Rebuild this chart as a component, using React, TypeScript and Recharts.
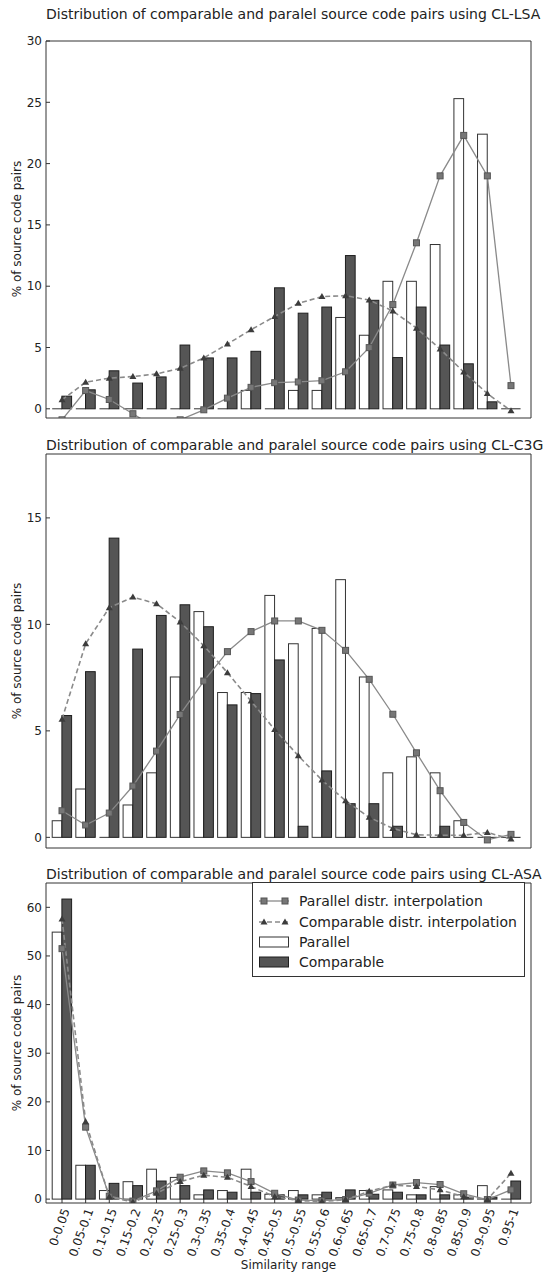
import React from "react";
import { ComposedChart, Bar, Line, XAxis, YAxis } from "recharts";

const categories = [
  "0-0.05", "0.05-0.1", "0.1-0.15", "0.15-0.2", "0.2-0.25", "0.25-0.3", "0.3-0.35",
  "0.35-0.4", "0.4-0.45", "0.45-0.5", "0.5-0.55", "0.55-0.6", "0.6-0.65", "0.65-0.7",
  "0.7-0.75", "0.75-0.8", "0.8-0.85", "0.85-0.9", "0.9-0.95", "0.95-1",
];

// CL-LSA
const lsaParallel = [0, 0, 0, 0, 0, 0, 0, 0, 1.5, 0, 1.5, 1.5, 7.45, 6.0, 10.4, 10.4, 13.4, 25.3, 22.4, 0];
const lsaComparable = [1.03, 1.55, 3.1, 2.1, 2.6, 5.2, 4.15, 4.15, 4.69, 9.87, 7.8, 8.3, 12.5, 8.85, 4.18, 8.3, 5.2, 3.67, 0.57, 0];
const lsaParallelFit = [-0.9, 1.49, 0.76, -0.4, -1.6, -0.9, -0.08, 0.87, 1.75, 2.13, 2.19, 2.29, 3.02, 4.99, 8.5, 13.54, 19.0, 22.3, 19.0, 1.89];
const lsaComparableFit = [0.73, 2.17, 2.5, 2.63, 2.85, 3.3, 4.15, 5.28, 6.45, 7.53, 8.6, 9.15, 9.23, 8.87, 7.98, 6.58, 4.88, 3.0, 1.24, -0.16];

// CL-C3G
const c3gParallel = [0.78, 2.27, 0, 1.52, 3.03, 7.53, 10.6, 6.8, 6.8, 11.36, 9.09, 9.81, 12.1, 7.53, 3.03, 3.78, 3.03, 0.78, 0, 0];
const c3gComparable = [5.72, 7.78, 14.05, 8.84, 10.42, 10.92, 9.89, 6.22, 6.75, 8.33, 0.52, 3.12, 1.58, 1.58, 0.52, 0, 0.52, 0, 0, 0];
const c3gParallelFit = [1.25, 0.58, 1.14, 2.41, 4.05, 5.77, 7.34, 8.72, 9.66, 10.16, 10.16, 9.72, 8.78, 7.42, 5.78, 3.97, 2.19, 0.7, -0.12, 0.14];
const c3gComparableFit = [5.55, 9.09, 10.78, 11.28, 10.97, 10.11, 9.0, 7.73, 6.4, 5.06, 3.83, 2.69, 1.72, 0.94, 0.42, 0.12, 0.1, 0.1, 0.23, -0.08];

// CL-ASA
const asaParallel = [54.9, 6.96, 1.76, 3.58, 6.15, 4.46, 0.88, 1.76, 6.15, 1.0, 1.76, 0.88, 0.3, 1.76, 1.89, 0.88, 2.57, 0.88, 2.77, 0];
const asaComparable = [61.7, 6.96, 3.24, 2.77, 3.72, 2.77, 1.89, 1.42, 1.42, 0.88, 0.88, 1.42, 1.89, 1.0, 1.42, 0.88, 0.88, 0.4, 0.4, 3.72];
const asaParallelFit = [51.5, 14.8, 0.6, -0.4, 1.7, 4.5, 5.8, 5.4, 3.6, 1.2, -0.2, -0.3, -0.1, 1.2, 2.9, 3.4, 3.0, 1.1, -0.1, 1.9];
const asaComparableFit = [57.6, 15.9, 0.5, -0.6, 1.2, 3.6, 4.9, 4.5, 2.6, 0.5, -0.3, -0.5, -0.1, 1.6, 2.9, 2.6, 1.9, 0.5, -0.1, 5.3];

const lsaTicks = [0, 5, 10, 15, 20, 25, 30];
const c3gTicks = [0, 5, 10, 15];
const asaTicks = [0, 10, 20, 30, 40, 50, 60];

const build = (p: number[], c: number[], pf: number[], cf: number[]) =>
  categories.map((range, i) => ({
    range,
    parallel: p[i],
    comparable: c[i],
    parallelFit: pf[i],
    comparableFit: cf[i],
  }));

const AXIS = "#333";
const TEXT = "#222";
const FONT = "'DejaVu Sans', sans-serif";

const whiteBar = (props: any) => {
  const { x, y, width, height } = props;
  if (!height || Math.abs(height) < 0.4)
    return <line x1={x} x2={x + width} y1={y} y2={y} stroke="#333" strokeWidth={1} />;
  return <rect x={x} y={y} width={width} height={height} fill="#fff" stroke="#333" strokeWidth={1} />;
};

const darkBar = (props: any) => {
  const { x, y, width, height } = props;
  if (!height || Math.abs(height) < 0.4)
    return <line x1={x} x2={x + width} y1={y} y2={y} stroke="#222" strokeWidth={1} />;
  return <rect x={x} y={y} width={width} height={height} fill="#555" stroke="#1e1e1e" strokeWidth={1} />;
};

const squareDot = (props: any) => {
  const { cx, cy, index } = props;
  if (cx == null || cy == null) return <g key={`s${index}`} />;
  return <rect key={`s${index}`} x={cx - 3} y={cy - 3} width={6} height={6} fill="#777" stroke="#555" strokeWidth={1} />;
};

const triDot = (props: any) => {
  const { cx, cy, index } = props;
  if (cx == null || cy == null) return <g key={`t${index}`} />;
  return <path key={`t${index}`} d={`M${cx},${cy - 3.5} L${cx + 3.5},${cy + 2.5} L${cx - 3.5},${cy + 2.5} Z`} fill="#3c3c3c" />;
};

const RotTick = (props: any) => {
  const { x, y, payload } = props;
  const ax = x + 4;
  const ay = y + 6;
  return (
    <text x={ax} y={ay} dy="0.35em" transform={`rotate(-70 ${ax} ${ay})`} textAnchor="end" fontSize={12} fill={TEXT} fontFamily={FONT}>
      {payload.value}
    </text>
  );
};

type PanelProps = {
  top: number;
  height: number;
  marginTop: number;
  marginBottom: number;
  xAxisHeight: number;
  data: any[];
  domain: [number, number];
  ticks: number[];
  showLabels: boolean;
};

function Panel({ top, height, marginTop, marginBottom, xAxisHeight, data, domain, ticks, showLabels }: PanelProps) {
  const pad = { left: 4.2, right: 8.2 };
  // the top axis and right axis take 1px each, margins are reduced to keep the plot box in place
  return (
    <div style={{ position: "absolute", left: 0, top }}>
      <ComposedChart
        width={543}
        height={height}
        data={data}
        margin={{ top: marginTop - 1, right: 11, bottom: marginBottom, left: 0 }}
        barGap={0}
      >
        <XAxis
          xAxisId="b"
          dataKey="range"
          interval={0}
          padding={pad}
          height={xAxisHeight}
          tickSize={-4}
          tickMargin={4}
          tick={showLabels ? <RotTick /> : false}
          axisLine={{ stroke: AXIS }}
          tickLine={{ stroke: AXIS }}
        />
        <XAxis
          xAxisId="t"
          orientation="top"
          dataKey="range"
          interval={0}
          padding={pad}
          height={1}
          tickSize={-4}
          tick={false}
          axisLine={{ stroke: AXIS }}
          tickLine={{ stroke: AXIS }}
        />
        <YAxis
          yAxisId="l"
          domain={domain}
          ticks={ticks}
          allowDataOverflow
          width={46}
          tickSize={-4}
          tickMargin={8}
          tick={{ fontSize: 12, fill: TEXT, fontFamily: FONT }}
          axisLine={{ stroke: AXIS }}
          tickLine={{ stroke: AXIS }}
        />
        <YAxis
          yAxisId="r"
          orientation="right"
          domain={domain}
          ticks={ticks}
          allowDataOverflow
          width={1}
          tickSize={-4}
          tick={false}
          axisLine={{ stroke: AXIS }}
          tickLine={{ stroke: AXIS }}
        />
        <Bar xAxisId="b" yAxisId="l" dataKey="parallel" barSize={9.7} shape={whiteBar} isAnimationActive={false} />
        <Bar xAxisId="b" yAxisId="l" dataKey="comparable" barSize={9.7} shape={darkBar} isAnimationActive={false} />
        <Line
          xAxisId="b"
          yAxisId="l"
          type="linear"
          dataKey="parallelFit"
          stroke="#8a8a8a"
          strokeWidth={1.3}
          dot={squareDot}
          activeDot={false}
          isAnimationActive={false}
        />
        <Line
          xAxisId="b"
          yAxisId="l"
          type="linear"
          dataKey="comparableFit"
          stroke="#8a8a8a"
          strokeWidth={1.6}
          strokeDasharray="5 3"
          dot={triDot}
          activeDot={false}
          isAnimationActive={false}
        />
      </ComposedChart>
    </div>
  );
}

const titleStyle = (top: number): React.CSSProperties => ({
  position: "absolute",
  left: 46,
  width: 485,
  top,
  height: 16,
  lineHeight: "16px",
  fontSize: 14,
  textAlign: "center",
  whiteSpace: "nowrap",
  color: TEXT,
});

const yLabelStyle = (center: number): React.CSSProperties => ({
  position: "absolute",
  left: 17,
  top: center,
  fontSize: 12,
  lineHeight: "14px",
  whiteSpace: "nowrap",
  color: TEXT,
  transform: "translate(-50%, -50%) rotate(-90deg)",
});

function LegendBox() {
  const rows = [
    { label: "Parallel distr. interpolation", kind: "pline", y: 19 },
    { label: "Comparable distr. interpolation", kind: "cline", y: 39.7 },
    { label: "Parallel", kind: "pbar", y: 60.3 },
    { label: "Comparable", kind: "cbar", y: 80.3 },
  ];
  return (
    <div
      style={{
        position: "absolute",
        left: 252,
        top: 882,
        width: 273,
        height: 95,
        border: `1px solid ${AXIS}`,
        background: "#fff",
        boxSizing: "border-box",
      }}
    >
      {rows.map((r) => (
        <React.Fragment key={r.label}>
          <svg width={32} height={14} style={{ position: "absolute", left: 5, top: r.y - 8 }}>
            {r.kind === "pline" && (
              <g>
                <line x1={1} x2={31} y1={7} y2={7} stroke="#8a8a8a" strokeWidth={1.3} />
                <rect x={3} y={4} width={6} height={6} fill="#777" stroke="#555" />
                <rect x={24} y={4} width={6} height={6} fill="#777" stroke="#555" />
              </g>
            )}
            {r.kind === "cline" && (
              <g>
                <line x1={1} x2={31} y1={7} y2={7} stroke="#8a8a8a" strokeWidth={1.6} strokeDasharray="5 3" />
                <path d="M6,3.5 L9.5,9.5 L2.5,9.5 Z" fill="#3c3c3c" />
                <path d="M27,3.5 L30.5,9.5 L23.5,9.5 Z" fill="#3c3c3c" />
              </g>
            )}
            {r.kind === "pbar" && <rect x={1.5} y={2} width={29} height={10} fill="#fff" stroke="#333" />}
            {r.kind === "cbar" && <rect x={1.5} y={2} width={29} height={10} fill="#555" stroke="#1e1e1e" />}
          </svg>
          <div
            style={{
              position: "absolute",
              left: 46,
              top: r.y - 9,
              fontSize: 14,
              lineHeight: "16px",
              whiteSpace: "nowrap",
              color: TEXT,
            }}
          >
            {r.label}
          </div>
        </React.Fragment>
      ))}
    </div>
  );
}

export default function App() {
  const lsaData = build(lsaParallel, lsaComparable, lsaParallelFit, lsaComparableFit);
  const c3gData = build(c3gParallel, c3gComparable, c3gParallelFit, c3gComparableFit);
  const asaData = build(asaParallel, asaComparable, asaParallelFit, asaComparableFit);

  return (
    <div
      style={{
        position: "absolute",
        left: 0,
        top: 0,
        width: 543,
        height: 1277,
        background: "#fff",
        fontFamily: FONT,
      }}
    >
      <Panel top={0} height={430} marginTop={41} marginBottom={11} xAxisHeight={1} data={lsaData} domain={[-0.75, 30]} ticks={lsaTicks} showLabels={false} />
      <Panel top={430} height={425} marginTop={24} marginBottom={6} xAxisHeight={1} data={c3gData} domain={[-0.5, 18]} ticks={c3gTicks} showLabels={false} />
      <Panel top={855} height={422} marginTop={28} marginBottom={0} xAxisHeight={74} data={asaData} domain={[-0.8, 65]} ticks={asaTicks} showLabels={true} />

      <div style={titleStyle(6)}>Distribution of comparable and paralel source code pairs using CL-LSA</div>
      <div style={titleStyle(437)}>Distribution of comparable and paralel source code pairs using CL-C3G</div>
      <div style={titleStyle(866)}>Distribution of comparable and paralel source code pairs using CL-ASA</div>

      <div style={yLabelStyle(229)}>% of source code pairs</div>
      <div style={yLabelStyle(651)}>% of source code pairs</div>
      <div style={yLabelStyle(1043)}>% of source code pairs</div>

      <div
        style={{
          position: "absolute",
          left: 46,
          width: 485,
          top: 1258,
          fontSize: 12,
          lineHeight: "14px",
          textAlign: "center",
          color: TEXT,
        }}
      >
        Similarity range
      </div>

      <LegendBox />
    </div>
  );
}
